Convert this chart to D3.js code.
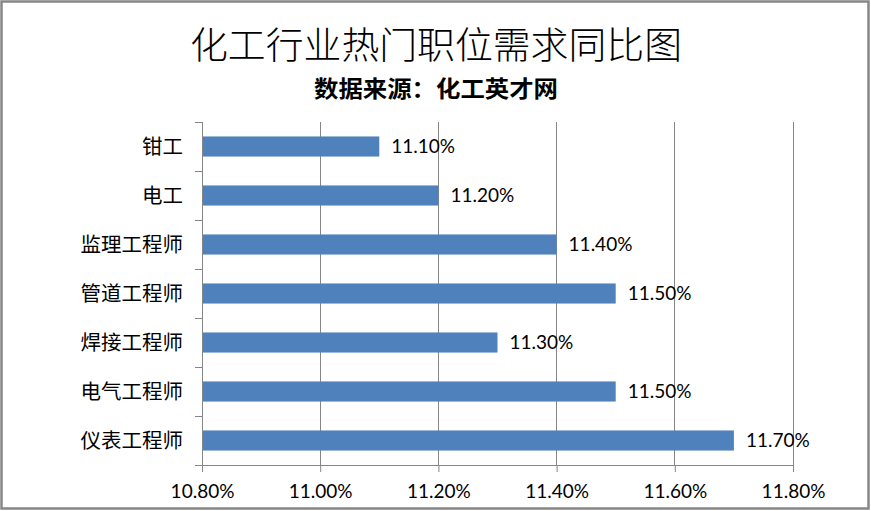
<!DOCTYPE html>
<html><head><meta charset="utf-8">
<script src="https://cdn.jsdelivr.net/npm/d3@7/dist/d3.min.js"></script>
<style>body{margin:0;background:#fff}svg{display:block}</style>
</head><body>
<svg id="c" width="871" height="511"></svg>
<script>
const categories = ["钳工","电工","监理工程师","管道工程师","焊接工程师","电气工程师","仪表工程师"];
const values = [11.1, 11.2, 11.4, 11.5, 11.3, 11.5, 11.7];
const tickValues = [10.8, 11.0, 11.2, 11.4, 11.6, 11.8];
const title = "化工行业热门职位需求同比图";
const subtitle = "数据来源：化工英才网";

const svg = d3.select("#c");
const W = 871, H = 511;
const m = {left:202, right:78, top:122, bottom:46};
svg.append("rect").attr("x",1.5).attr("y",1.5).attr("width",W-4).attr("height",H-4)
  .attr("fill","#fff").attr("stroke","#868686").attr("stroke-width",2.5);

const cjk = "'Noto Sans CJK SC','Noto Sans',sans-serif";
svg.append("text").attr("x",436).attr("y",59).attr("text-anchor","middle")
  .attr("font-family",cjk).attr("font-size",37).attr("font-weight",300).attr("fill","#000")
  .attr("textLength",492).attr("lengthAdjust","spacingAndGlyphs")
  .text(title);
svg.append("text").attr("x",436).attr("y",97).attr("text-anchor","middle")
  .attr("font-family",cjk).attr("font-size",23).attr("font-weight",600).attr("fill","#000")
  .attr("textLength",244).attr("lengthAdjust","spacingAndGlyphs")
  .text(subtitle);

const x = d3.scaleLinear().domain([10.8, 11.8]).range([m.left, W - m.right]);
const y = d3.scaleBand().domain(categories).range([m.top, H - m.bottom]).paddingInner(0.59).paddingOuter(0.295);
const yOuter = d3.scaleBand().domain(categories).range([m.top, H - m.bottom]);

// gridlines
svg.append("g").selectAll("line").data(tickValues.slice(1)).join("line")
  .attr("x1",d=>x(d)).attr("x2",d=>x(d)).attr("y1",m.top).attr("y2",H-m.bottom)
  .attr("stroke","#868686").attr("stroke-width",1).attr("shape-rendering","crispEdges");

// bars
svg.append("g").selectAll("rect").data(values).join("rect")
  .attr("x",x(10.8)).attr("y",(d,i)=>y(categories[i]))
  .attr("width",d=>x(d)-x(10.8)).attr("height",y.bandwidth())
  .attr("fill","#4F81BD");

// value labels
svg.append("g").selectAll("text").data(values).join("text")
  .attr("x",d=>x(d)+12).attr("y",(d,i)=>y(categories[i])+y.bandwidth()/2)
  .attr("dy","0.35em").attr("font-family","Lato,'Open Sans',sans-serif").attr("font-size",19)
  .attr("fill","#000").text(d=>d.toFixed(2)+"%");

// x axis
const xAxis = d3.axisBottom(x).tickValues(tickValues).tickSize(7).tickSizeOuter(0)
  .tickFormat(d=>d.toFixed(2)+"%");
const gx = svg.append("g").attr("transform",`translate(0,${H-m.bottom})`).call(xAxis);
gx.select(".domain").attr("stroke","#868686");
gx.selectAll(".tick line").attr("stroke","#868686");
gx.selectAll(".tick text").attr("font-family","Lato,'Open Sans',sans-serif").attr("font-size",19)
  .attr("fill","#000").attr("dy","1.2em");

// y axis
const gy = svg.append("g").attr("transform",`translate(${m.left},0)`);
gy.append("line").attr("x1",0).attr("x2",0).attr("y1",m.top).attr("y2",H-m.bottom+7)
  .attr("stroke","#868686").attr("shape-rendering","crispEdges");
const edges = categories.map(c=>yOuter(c)).concat([H-m.bottom]);
gy.selectAll("line.t").data(edges).join("line").attr("class","t")
  .attr("x1",-7).attr("x2",0).attr("y1",d=>d).attr("y2",d=>d)
  .attr("stroke","#868686").attr("shape-rendering","crispEdges");
gy.selectAll("text").data(categories).join("text")
  .attr("x",-19).attr("y",d=>yOuter(d)+yOuter.bandwidth()/2).attr("dy","0.35em")
  .attr("text-anchor","end").attr("font-family",cjk).attr("font-size",20.5).attr("fill","#000")
  .text(d=>d);
</script>
</body></html>
